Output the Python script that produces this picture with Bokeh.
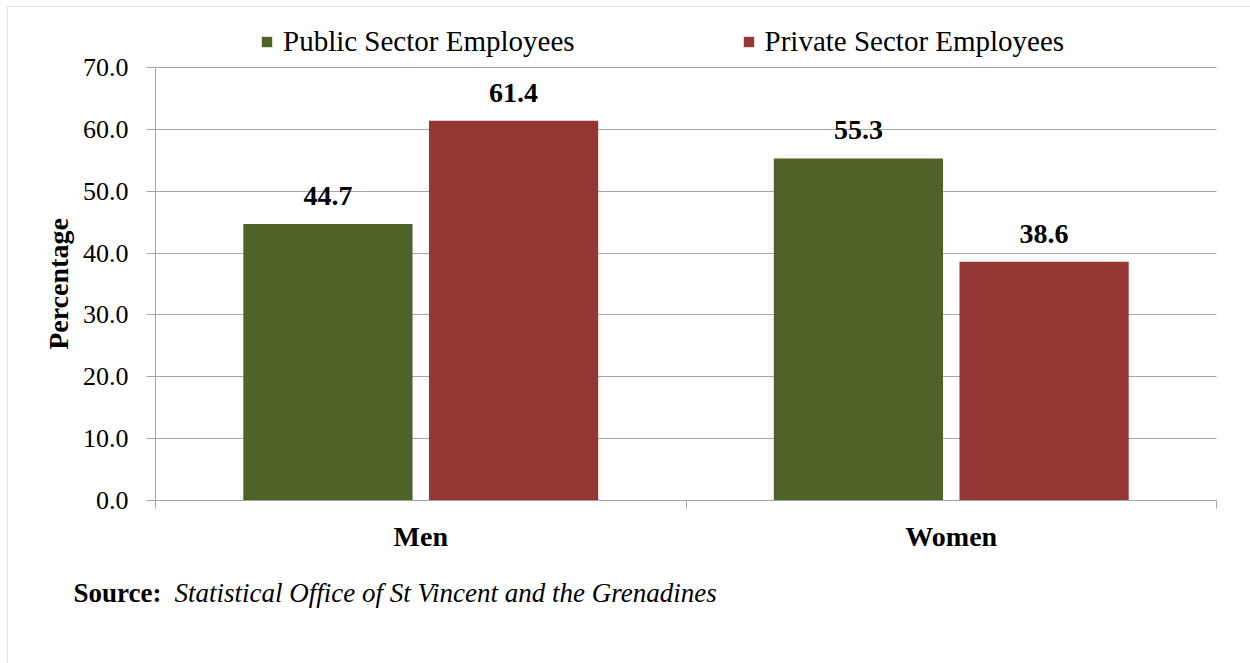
from bokeh.plotting import figure
from bokeh.models import (ColumnDataSource, FixedTicker, Legend, LegendItem, Label,
                          LabelSet, Range1d, NumeralTickFormatter, BoxAnnotation)
from bokeh.embed import file_html
from bokeh.resources import INLINE

# ---- data ----
categories = ["Men", "Women"]
public_sector = [44.7, 55.3]
private_sector = [61.4, 38.6]
series_names = ["Public Sector Employees", "Private Sector Employees"]
y_ticks = [0, 10, 20, 30, 40, 50, 60, 70]
source_bold = "Source:"
source_text = "Statistical Office of St Vincent and the Grenadines"

# ---- style / layout ----
GREEN = "#4F6228"
RED = "#953735"
GRAY = "#a6a6a6"
FONT = "Liberation Serif"
OFF = 0.175
BAR_W = 0.319
W, H = 1250, 663
# pixel box of the plotting area inside the canvas
PL, PR, PT, PB = 155, 1216, 67, 500

n = len(categories)
centers = [i + 0.5 for i in range(n)]
bounds = [i for i in range(n + 1)]
y0, y1 = y_ticks[0], y_ticks[-1]

# ranges chosen so the whole canvas is the frame and the axes sit at the box edges
kx = (PR - PL) / n
ky = (PB - PT) / (y1 - y0)
x_start = 0 - PL / kx
x_end = x_start + W / kx
y_end = y1 + PT / ky
y_start = y_end - H / ky

pub_src = ColumnDataSource(dict(x=[c - OFF for c in centers], y=public_sector,
                                lab=["%.1f" % v for v in public_sector]))
pri_src = ColumnDataSource(dict(x=[c + OFF for c in centers], y=private_sector,
                                lab=["%.1f" % v for v in private_sector]))

p = figure(width=W, height=H, output_backend="svg", toolbar_location=None,
           x_range=Range1d(x_start, x_end), y_range=Range1d(y_start, y_end),
           min_border_left=0, min_border_right=0, min_border_top=0,
           min_border_bottom=0)
p.outline_line_color = None
p.background_fill_color = "white"
p.border_fill_color = "white"

# grid
p.xgrid.visible = False
g = p.ygrid[0]
g.grid_line_color = GRAY
g.grid_line_width = 1
g.ticker = FixedTicker(ticks=y_ticks[1:])
g.bounds = (y0, y1)
if "cross_bounds" in g.properties():
    g.cross_bounds = (0, n)
else:
    g.visible = False
    p.segment(x0=[0] * (len(y_ticks) - 1), x1=[n] * (len(y_ticks) - 1),
              y0=y_ticks[1:], y1=y_ticks[1:], line_color=GRAY, line_width=1)

r_pub = p.vbar(x="x", top="y", width=BAR_W, source=pub_src, fill_color=GREEN, line_color=None)
r_pri = p.vbar(x="x", top="y", width=BAR_W, source=pri_src, fill_color=RED, line_color=None)

# value labels
for src in (pub_src, pri_src):
    p.add_layout(LabelSet(x="x", y="y", text="lab", source=src, text_align="center",
                          text_baseline="alphabetic", y_offset=19,
                          text_font=FONT, text_font_style="bold",
                          text_font_size="28px", text_color="black"))

# y axis
ya = p.yaxis[0]
ya.fixed_location = 0
ya.bounds = (y0, y1)
ya.ticker = FixedTicker(ticks=y_ticks)
ya.formatter = NumeralTickFormatter(format="0.0")
ya.axis_line_color = GRAY
ya.major_tick_line_color = GRAY
ya.major_tick_out = 9
ya.major_tick_in = 0
ya.minor_tick_line_color = None
ya.major_label_standoff = 18
ya.major_label_text_font = FONT
ya.major_label_text_font_size = "26px"
ya.major_label_text_color = "black"
ya.axis_label = "Percentage"
ya.axis_label_text_font = FONT
ya.axis_label_text_font_style = "bold"
ya.axis_label_text_font_size = "28px"
ya.axis_label_text_color = "black"
ya.axis_label_standoff = 6

# x axis
xa = p.xaxis[0]
xa.fixed_location = y0
xa.bounds = (0, n)
xa.ticker = FixedTicker(ticks=centers, minor_ticks=bounds)
xa.major_label_overrides = {c: lab for c, lab in zip(centers, categories)}
xa.axis_line_color = GRAY
xa.major_tick_line_color = None
xa.major_tick_out = 0
xa.major_tick_in = 0
xa.minor_tick_line_color = GRAY
xa.minor_tick_out = 8
xa.minor_tick_in = 0
xa.major_label_standoff = 12
xa.major_label_text_font = FONT
xa.major_label_text_font_style = "bold"
xa.major_label_text_font_size = "28px"
xa.major_label_text_color = "black"

# legend
legend = Legend(items=[LegendItem(label=series_names[0], renderers=[r_pub]),
                       LegendItem(label=series_names[1], renderers=[r_pri])],
                orientation="horizontal", location=(260, 605),
                glyph_width=13, glyph_height=13, label_standoff=10, spacing=167,
                padding=0, margin=0, border_line_color=None,
                background_fill_alpha=0,
                label_text_font=FONT, label_text_font_size="29px",
                label_text_color="black")
p.add_layout(legend, "center")

# source note
p.add_layout(Label(x=73, y=71, x_units="screen", y_units="screen", text=source_bold,
                   text_font=FONT, text_font_style="bold", text_font_size="27px",
                   text_baseline="alphabetic", text_color="black"))
p.add_layout(Label(x=174, y=71, x_units="screen", y_units="screen", text=source_text,
                   text_font=FONT, text_font_style="italic", text_font_size="27px",
                   text_baseline="alphabetic", text_color="black"))

# outer chart border
p.add_layout(BoxAnnotation(left=7, top=6, right=W + 50, bottom=H + 50,
                           left_units="canvas", right_units="canvas",
                           top_units="canvas", bottom_units="canvas",
                           fill_alpha=0, line_color="#a0a0a0", line_width=1))

open("out.html", "w").write(file_html(p, INLINE))
